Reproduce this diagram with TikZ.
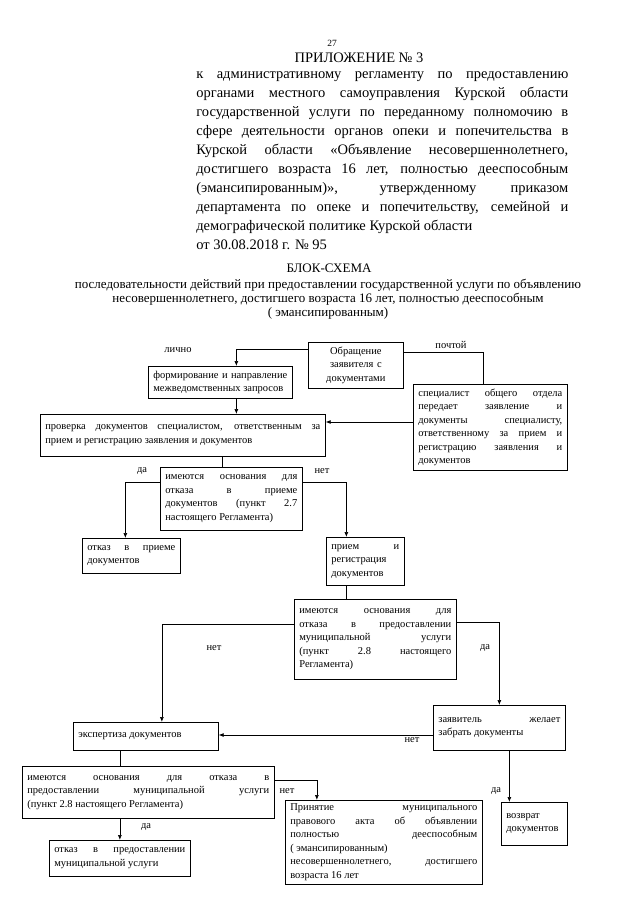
\documentclass[tikz,border=0pt]{standalone}
\usepackage{fontspec}
\setmainfont{Liberation Serif}
\usetikzlibrary{arrows.meta,positioning,calc}
\newcommand{\blockfont}{\fontsize{10.5}{13.5}\selectfont}
\newcommand{\headfont}{\fontsize{14.5}{19}\selectfont}
\newcommand{\titlefont}{\fontsize{13}{14}\selectfont}

\begin{document}
\begin{tikzpicture}[
    x=1pt, y=-1pt,
    line width=0.7pt,
    box/.style={draw, anchor=north west, align=justify, font=\blockfont,
                inner xsep=5pt, inner ysep=3pt},
    lbl/.style={font=\blockfont, inner sep=1pt},
    flow/.style={-{Latex[length=5pt,width=4pt]}},
  ]
    % ---- page ----
    \path[fill=white] (0,0) rectangle (639,905);

    % ---- header ----
    \node[font=\fontsize{9.5}{10}\selectfont, anchor=base] (pnum) at (332,46) {27};
    \node[font=\headfont, anchor=base] (app) at (359,62) {ПРИЛОЖЕНИЕ № 3};
    \node[font=\headfont, anchor=north west, align=justify, text width=372pt,
          inner sep=0pt] (reg) at (196,71)
      {к административному регламенту по предоставлению\linebreak
       органами местного самоуправления Курской области\linebreak
       государственной услуги по переданному полномочию в\linebreak
       сфере деятельности органов опеки и попечительства в\linebreak
       Курской области «Объявление несовершеннолетнего,\linebreak
       достигшего возраста 16 лет, полностью дееспособным\linebreak
       (эмансипированным)», утвержденному приказом\linebreak
       департамента по опеке и попечительству, семейной и\linebreak
       демографической политике Курской области\\
       от 30.08.2018 г. № 95};

    % ---- title ----
    \node[font=\titlefont, anchor=base] (ttl) at (329,272) {БЛОК-СХЕМА};
    \node[font=\titlefont, align=center, anchor=north, inner sep=0pt] (sub) at (328,279)
      {последовательности действий при предоставлении государственной услуги по объявлению\\
       несовершеннолетнего, достигшего возраста 16 лет, полностью дееспособным\\
       ( эмансипированным)};

    % ---- intake ----
    \node[box, align=center, text width=85pt, minimum height=46pt] (obr) at (308,342)
      {Обращение\\заявителя с\\документами};
    \node[box, text width=134pt, minimum height=32pt] (form) at (148,366)
      {формирование и направление\linebreak межведомственных запросов};
    \node[box, text width=275pt, minimum height=42pt] (prov) at (40,414)
      {проверка документов специалистом, ответственным за\linebreak
       прием и регистрацию заявления и документов};
    \node[box, text width=144pt, minimum height=86pt] (spec) at (413,384)
      {специалист общего отдела\linebreak передает заявление и\linebreak
       документы специалисту,\linebreak ответственному за прием и\linebreak
       регистрацию заявления и\linebreak документов};

    % ---- first check ----
    \node[box, text width=132pt, minimum height=63pt] (osn1) at (160,467)
      {имеются основания для\linebreak отказа в приеме\linebreak
       документов (пункт 2.7\linebreak настоящего Регламента)};
    \node[box, text width=88pt, minimum height=35pt] (otk1) at (82,538)
      {отказ в приеме\linebreak документов};
    \node[box, text width=68pt, minimum height=48pt] (priem) at (326,537)
      {прием и\linebreak регистрация\linebreak документов};

    % ---- second check ----
    \node[box, text width=152pt, minimum height=80pt] (osn2) at (294,599)
      {имеются основания для\linebreak отказа в предоставлении\linebreak
       муниципальной услуги\linebreak (пункт 2.8 настоящего\linebreak Регламента)};
    \node[box, text width=122pt, minimum height=45pt] (zabr) at (433,705)
      {заявитель желает\linebreak забрать документы};
    \node[box, text width=135pt, minimum height=28pt] (eksp) at (73,722)
      {экспертиза документов};
    \node[box, text width=242pt, minimum height=52pt] (osn3) at (22,766)
      {имеются основания для отказа в\linebreak
       предоставлении муниципальной услуги\linebreak
       (пункт 2.8 настоящего Регламента)};
    \node[box, text width=187pt, minimum height=84pt] (akt) at (285,800)
      {Принятие муниципального\linebreak правового акта об объявлении\linebreak
       полностью дееспособным\linebreak ( эмансипированным)\\
       несовершеннолетнего, достигшего\linebreak возраста 16 лет};
    \node[box, text width=56pt, minimum height=43pt] (vozv) at (501,802)
      {возврат\\ документов};
    \node[box, text width=131pt, minimum height=36pt] (otk2) at (49,840)
      {отказ в предоставлении\linebreak муниципальной услуги};

    % ---- connectors ----
    \draw[flow] ([yshift=-7pt]obr.north west) -| ([xshift=16pt]form.north);
    \draw ([yshift=-10pt]obr.north east) -| ([xshift=-7pt]spec.north);
    \draw[flow] ([xshift=16pt]form.south) -- ([xshift=16pt]form.south |- prov.north);
    \draw[flow] ([yshift=-38pt]spec.north west) -- ([yshift=-38pt]spec.north west -| prov.east);
    \draw ([xshift=-9pt]osn1.north |- prov.south) -- ([xshift=-9pt]osn1.north);
    \draw[flow] ([yshift=-15pt]osn1.north west) -| ([xshift=-6pt]otk1.north);
    \draw[flow] ([yshift=-15pt]osn1.north east) -| ([xshift=-19pt]priem.north);
    \draw ([xshift=-19pt]priem.south) -- ([xshift=-19pt]priem.south |- osn2.north);
    \draw[flow] ([yshift=-25pt]osn2.north west) -| ([xshift=16pt]eksp.north);
    \draw[flow] ([yshift=-23pt]osn2.north east) -| (zabr.north);
    \draw[flow] ([yshift=-30pt]zabr.north west) -- ([yshift=-30pt]zabr.north west -| eksp.east);
    \draw ([xshift=-26pt]eksp.south) -- ([xshift=-26pt]eksp.south |- osn3.north);
    \draw[flow] ([yshift=-14pt]osn3.north east) -| ([xshift=-67pt]akt.north);
    \draw[flow] (otk2.north |- osn3.south) -- (otk2.north);
    \draw[flow] ([xshift=-25pt]vozv.north |- zabr.south) -- ([xshift=-25pt]vozv.north);

    % ---- branch labels ----
    \node[lbl] (l1) at (178,350) {лично};
    \node[lbl] (l2) at (451,345) {почтой};
    \node[lbl] (l3) at (142,471) {да};
    \node[lbl] (l4) at (322,471) {нет};
    \node[lbl] (l5) at (214,648) {нет};
    \node[lbl] (l6) at (485,648) {да};
    \node[lbl] (l7) at (412,740) {нет};
    \node[lbl] (l8) at (287,791) {нет};
    \node[lbl] (l9) at (496,791) {да};
    \node[lbl] (l10) at (146,827) {да};
  \end{tikzpicture}
\end{document}
